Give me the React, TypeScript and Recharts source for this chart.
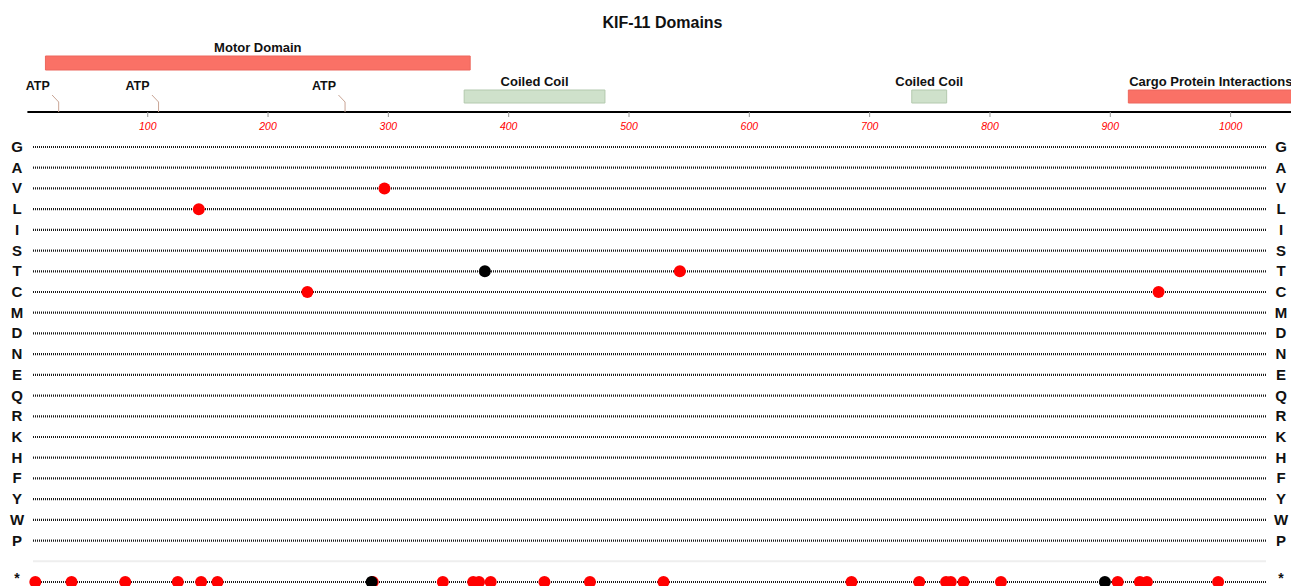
import React from "react";
import {
  ComposedChart,
  ScatterChart,
  Scatter,
  XAxis,
  YAxis,
  ReferenceArea,
  ReferenceLine,
} from "recharts";

const PROTEIN_LENGTH = 1056;
const positionTicks = [100, 200, 300, 400, 500, 600, 700, 800, 900, 1000];

// protein domains (residue ranges)
const domainNames = ["Motor Domain", "Coiled Coil", "Coiled Coil", "Cargo Protein Interactions"];
const domainStarts = [15, 363, 735, 915];
const domainEnds = [368, 480, 764, 1052];
const domainTypes = ["motor", "coil", "coil", "cargo"];

const atpSites = [26, 109, 264];

// residue rows, a spacer row, then stop codons
const residues = ["G", "A", "V", "L", "I", "S", "T", "C", "M", "D", "N", "E", "Q", "R", "K", "H", "F", "Y", "W", "P"];
const rowLabels = [...residues, "", "*"];

const redResidues = ["V", "L", "T", "C", "C"];
const redPositions = [301, 142, 554, 235, 964];
const blackResidues = ["T"];
const blackPositions = [387];

const stopRedPositions = [2, 33, 79, 124, 144, 158, 291, 351, 377, 382, 392, 438, 477, 540, 701, 759, 782, 786, 797, 829, 929, 948, 954, 1015];
const stopBlackPositions = [290, 918];

const RED = "#ff0000";
const FONT = "'Liberation Sans', Arial, Helvetica, sans-serif";

const domainStyle: Record<string, { fill: string; stroke: string; lane: [number, number] }> = {
  motor: { fill: "#fa7166", stroke: "#ec675d", lane: [42, 56] },
  coil: { fill: "#cfe1cb", stroke: "#b3c9ae", lane: [9, 22] },
  cargo: { fill: "#fa7166", stroke: "#ec675d", lane: [9, 22] },
};

const rowIndex = (label: string) => rowLabels.indexOf(label);

const redPoints = [
  ...redPositions.map((pos, i) => ({ pos, row: rowIndex(redResidues[i]) })),
  ...stopRedPositions.map((pos) => ({ pos, row: rowIndex("*") })),
];
const blackPoints = [
  ...blackPositions.map((pos, i) => ({ pos, row: rowIndex(blackResidues[i]) })),
  ...stopBlackPositions.map((pos) => ({ pos, row: rowIndex("*") })),
];
const atpPoints = atpSites.map((pos) => ({ pos, lane: 0 }));

const rowTicks = rowLabels.map((_, i) => i).filter((i) => rowLabels[i] !== "");

function AtpMarker(props: any) {
  const { cx, cy } = props;
  return (
    <g>
      <polyline
        points={`${cx},${cy} ${cx},${cy - 10} ${cx - 6.6},${cy - 17}`}
        fill="none"
        stroke="#c9a595"
        strokeWidth={1}
      />
      <text x={cx - 21} y={cy - 22} textAnchor="middle" fontSize={12.5} fontWeight="bold" fill="#111">
        ATP
      </text>
    </g>
  );
}

function RowTick(props: any) {
  const { x, y, payload, shift } = props;
  const label = rowLabels[payload.value];
  const isStop = label === "*";
  return (
    <text
      x={x + shift}
      y={y}
      dy={isStop ? 0.5 : 5}
      textAnchor="middle"
      fontSize={isStop ? 14 : 15}
      fontWeight="bold"
      fill="#111"
    >
      {label}
    </text>
  );
}

const dot = (color: string) => (p: any) => <circle cx={p.cx} cy={p.cy} r={6} fill={color} />;

export default function App() {
  return (
    <div
      style={{
        position: "fixed",
        left: 0,
        top: 0,
        width: 1291,
        height: 586,
        overflow: "hidden",
        background: "#fff",
        fontFamily: FONT,
      }}
    >
      <div
        style={{
          position: "absolute",
          left: 0,
          top: 13,
          width: 1325,
          textAlign: "center",
          fontSize: 16,
          lineHeight: "20px",
          fontWeight: "bold",
          color: "#111",
        }}
      >
        KIF-11 Domains
      </div>

      {/* domain track with residue axis */}
      <div style={{ position: "absolute", left: 0, top: 0 }}>
        <ComposedChart width={1298} height={140} margin={{ top: 0, right: 0, bottom: 0, left: 27.4 }}>
          <XAxis
            type="number"
            dataKey="pos"
            domain={[0, PROTEIN_LENGTH]}
            ticks={positionTicks}
            interval={0}
            height={28}
            axisLine={{ stroke: "#000", strokeWidth: 2 }}
            tickLine={{ stroke: "#999" }}
            tickSize={5}
            tickMargin={6}
            tick={{ fill: RED, fontSize: 10.5, fontStyle: "italic" }}
          />
          <YAxis type="number" dataKey="lane" domain={[0, 112]} hide />
          {domainNames.map((name, i) => {
            const s = domainStyle[domainTypes[i]];
            return (
              <ReferenceArea
                key={i}
                x1={domainStarts[i]}
                x2={domainEnds[i]}
                y1={s.lane[0]}
                y2={s.lane[1]}
                fill={s.fill}
                fillOpacity={1}
                stroke={s.stroke}
                strokeWidth={1}
                ifOverflow="visible"
                label={{
                  value: name,
                  position: "top",
                  offset: 4,
                  fontSize: 13,
                  fontWeight: "bold",
                  fill: "#111",
                }}
              />
            );
          })}
          <Scatter data={atpPoints} shape={<AtpMarker />} isAnimationActive={false} />
        </ComposedChart>
      </div>

      {/* mutation rows */}
      <div style={{ position: "absolute", left: 0, top: 0 }}>
        <ScatterChart width={1291} height={600} margin={{ top: 147, right: 0, bottom: 18, left: 0 }}>
          <XAxis type="number" dataKey="pos" domain={[0, PROTEIN_LENGTH]} hide />
          <YAxis
            yAxisId="left"
            type="number"
            dataKey="row"
            domain={[0, rowLabels.length - 1]}
            reversed
            ticks={rowTicks}
            interval={0}
            width={33}
            axisLine={false}
            tickLine={false}
            tick={(p: any) => <RowTick {...p} shift={-8} />}
          />
          <YAxis
            yAxisId="right"
            orientation="right"
            type="number"
            dataKey="row"
            domain={[0, rowLabels.length - 1]}
            reversed
            ticks={rowTicks}
            interval={0}
            width={25}
            axisLine={false}
            tickLine={false}
            tick={(p: any) => <RowTick {...p} shift={7} />}
          />
          <ReferenceLine yAxisId="left" y={rowLabels.length - 2} stroke="#eeeeee" strokeWidth={2} />
          {rowTicks.map((r) => (
            <ReferenceLine key={r} yAxisId="left" y={r} stroke="#1a1a1a" strokeWidth={2.2} strokeDasharray="1 1" />
          ))}
          <Scatter yAxisId="left" data={redPoints} shape={dot(RED)} isAnimationActive={false} />
          <Scatter yAxisId="right" data={blackPoints} shape={dot("#000")} isAnimationActive={false} />
        </ScatterChart>
      </div>
    </div>
  );
}
